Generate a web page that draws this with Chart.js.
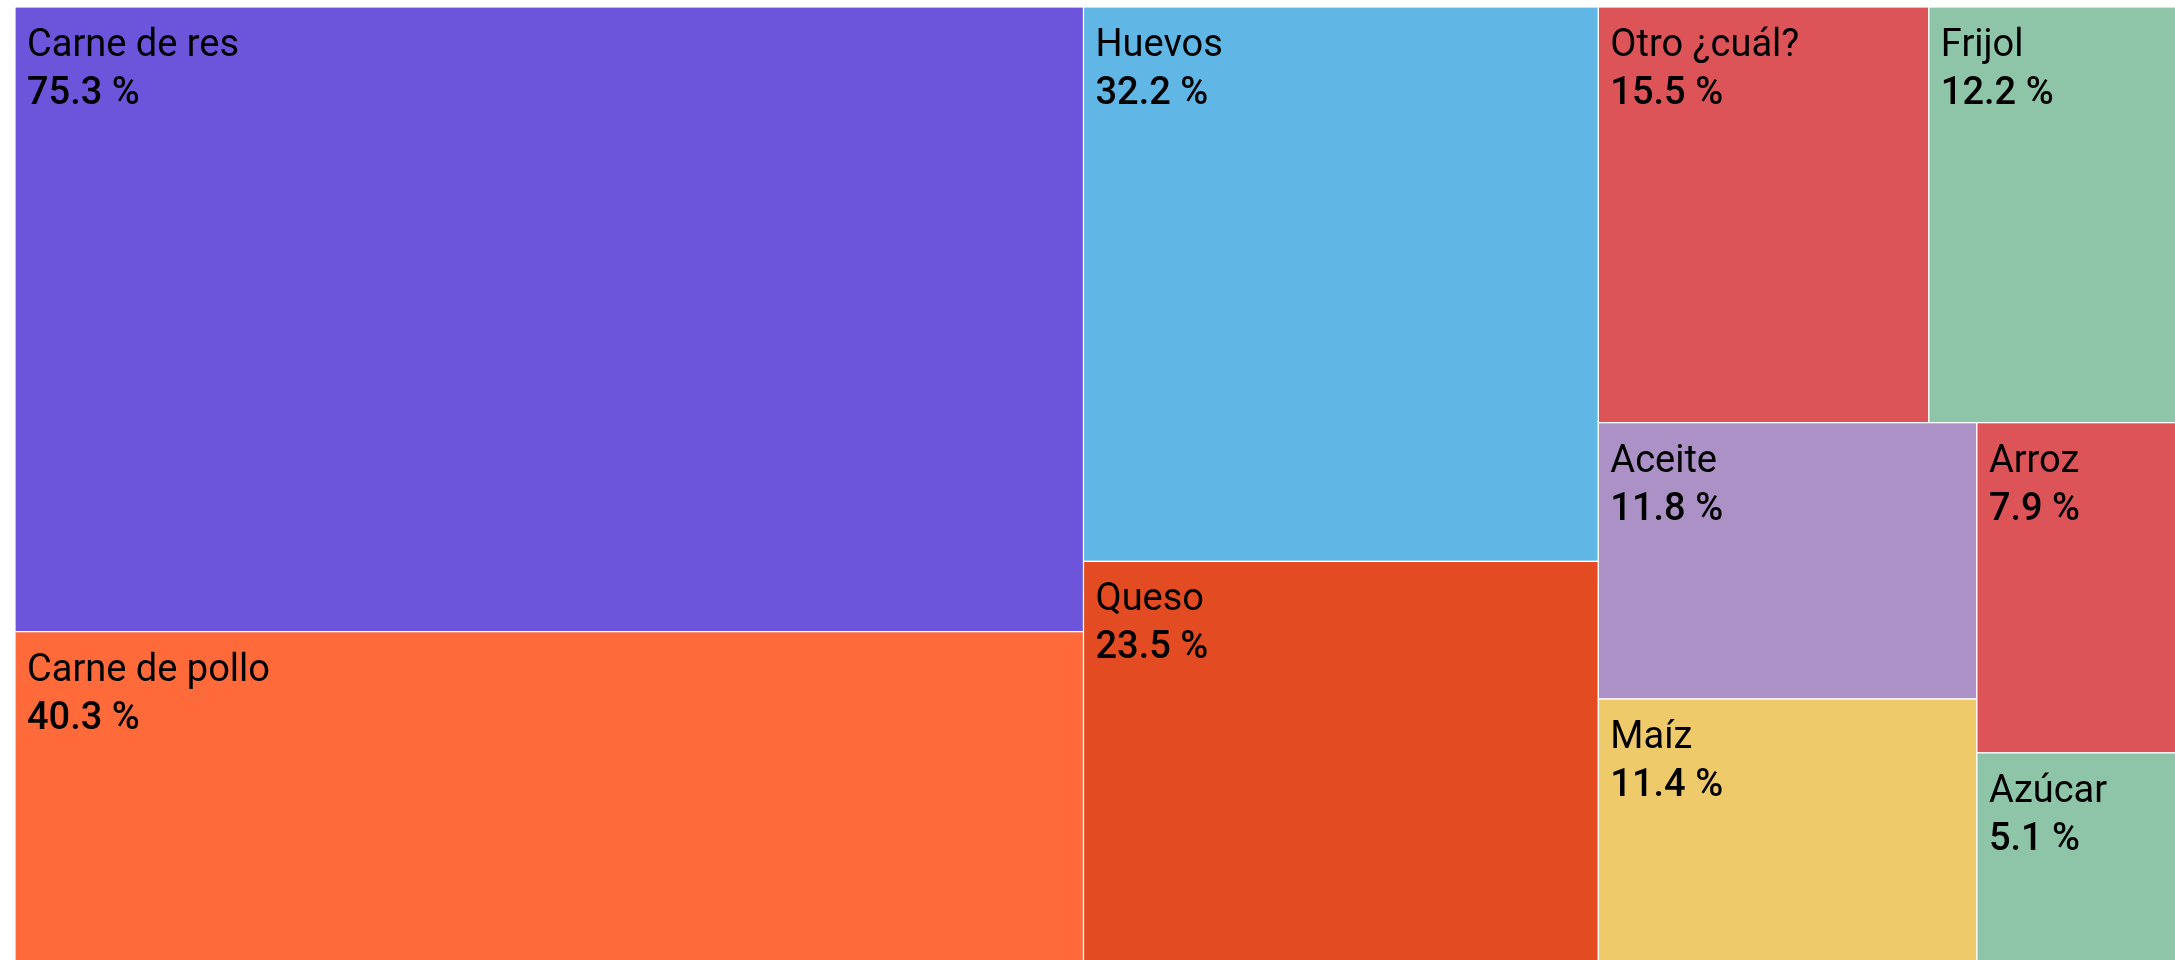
<!DOCTYPE html>
<html lang="es">
<head>
    <meta charset="UTF-8">
    <title>Alimentos</title>
    <style>
        html, body { margin: 0; padding: 0; overflow: hidden; background: #fff; }
        #wrap { position: absolute; left: 0; top: 0; }
    </style>
</head>
<body>
    <div id="wrap">
        <canvas id="treeChart" width="2189" height="966"></canvas>
    </div>
    <script src="https://cdn.jsdelivr.net/npm/chart.js"></script>

    <script>
        // Datos (porcentaje)
        const categories = ['Carne de res', 'Carne de pollo', 'Huevos', 'Queso', 'Otro ¿cuál?',
                            'Frijol', 'Aceite', 'Maíz', 'Arroz', 'Azúcar'];
        const values = [75.3, 40.3, 32.2, 23.5, 15.5, 12.2, 11.8, 11.4, 7.9, 5.1];
        const colors = ['#6c55da', '#fe6a3a', '#60b6e4', '#e34c22', '#dc5457',
                        '#8ec4a8', '#ab91c6', '#eeca6b', '#dc5457', '#8ec4a8'];

        // squarify (misma lógica que d3.treemapSquarify, ratio = phi)
        // kx, ky: píxeles por unidad, para decidir la orientación
        function squarify(vals, x0, y0, x1, y1, kx, ky) {
            const ratio = (1 + Math.sqrt(5)) / 2;
            const out = [];
            let value = vals.reduce((a, b) => a + b, 0);
            let i0 = 0, i1 = 0;
            const n = vals.length;
            while (i0 < n) {
                const dx = x1 - x0, dy = y1 - y0;
                const pdx = dx * kx, pdy = dy * ky;
                let sum = vals[i1++];
                let minV = sum, maxV = sum;
                const alpha = Math.max(pdy / pdx, pdx / pdy) / (value * ratio);
                let beta = sum * sum * alpha;
                let minRatio = Math.max(maxV / beta, beta / minV);
                for (; i1 < n; ++i1) {
                    const v = vals[i1];
                    sum += v;
                    if (v < minV) minV = v;
                    if (v > maxV) maxV = v;
                    beta = sum * sum * alpha;
                    const r = Math.max(maxV / beta, beta / minV);
                    if (r > minRatio) { sum -= v; break; }
                    minRatio = r;
                }
                if (pdx < pdy) {
                    // fila arriba, repartida en x
                    const yb = y0 + dy * sum / value;
                    let xx = x0;
                    for (let i = i0; i < i1; i++) {
                        const w = dx * vals[i] / sum;
                        out[i] = { x0: xx, y0: y0, x1: xx + w, y1: yb };
                        xx += w;
                    }
                    y0 = yb;
                } else {
                    // columna a la izquierda, repartida en y
                    const xb = x0 + dx * sum / value;
                    let yy = y0;
                    for (let i = i0; i < i1; i++) {
                        const h = dy * vals[i] / sum;
                        out[i] = { x0: x0, y0: yy, x1: xb, y1: yy + h };
                        yy += h;
                    }
                    x0 = xb;
                }
                value -= sum;
                i0 = i1;
            }
            return out;
        }

        const treemapPlugin = {
            id: 'treemap',
            afterDatasetsDraw(chart) {
                const ctx = chart.ctx;
                const xs = chart.scales.x, ys = chart.scales.y;
                const area = chart.chartArea;
                const kx = area.width / (xs.max - xs.min);
                const ky = area.height / (ys.max - ys.min);
                const rects = squarify(values, xs.min, ys.min, xs.max, ys.max, kx, ky);

                ctx.save();
                rects.forEach((r, i) => {
                    const left = xs.getPixelForValue(r.x0);
                    const right = xs.getPixelForValue(r.x1);
                    const top = ys.getPixelForValue(r.y0);
                    const bottom = ys.getPixelForValue(r.y1);
                    ctx.fillStyle = colors[i];
                    ctx.fillRect(left, top, right - left, bottom - top);
                    ctx.strokeStyle = '#ffffff';
                    ctx.lineWidth = 1.2;
                    ctx.strokeRect(left, top, right - left, bottom - top);

                    ctx.save();
                    ctx.beginPath();
                    ctx.rect(left, top, right - left, bottom - top);
                    ctx.clip();
                    ctx.fillStyle = '#000000';
                    ctx.textBaseline = 'alphabetic';
                    ctx.textAlign = 'left';
                    ctx.font = '400 38px Roboto';
                    ctx.fillText(categories[i], left + 12, top + 49);
                    ctx.font = '500 38px Roboto';
                    ctx.fillText(values[i].toFixed(1) + ' %', left + 12, top + 97);
                    ctx.restore();
                });
                ctx.restore();
            }
        };

        new Chart(document.getElementById('treeChart'), {
            type: 'scatter',
            data: {
                labels: categories,
                datasets: [{ label: 'Alimentos', data: [], pointRadius: 0 }]
            },
            options: {
                responsive: false,
                animation: false,
                layout: { padding: { left: 15, top: 7, right: 0, bottom: 0 } },
                scales: {
                    x: { type: 'linear', min: 0, max: 1, display: false },
                    y: { type: 'linear', min: 0, max: 1, reverse: true, display: false }
                },
                plugins: {
                    legend: { display: false },
                    title: { display: false },
                    tooltip: { enabled: false }
                }
            },
            plugins: [treemapPlugin]
        });
    </script>
</body>
</html>
